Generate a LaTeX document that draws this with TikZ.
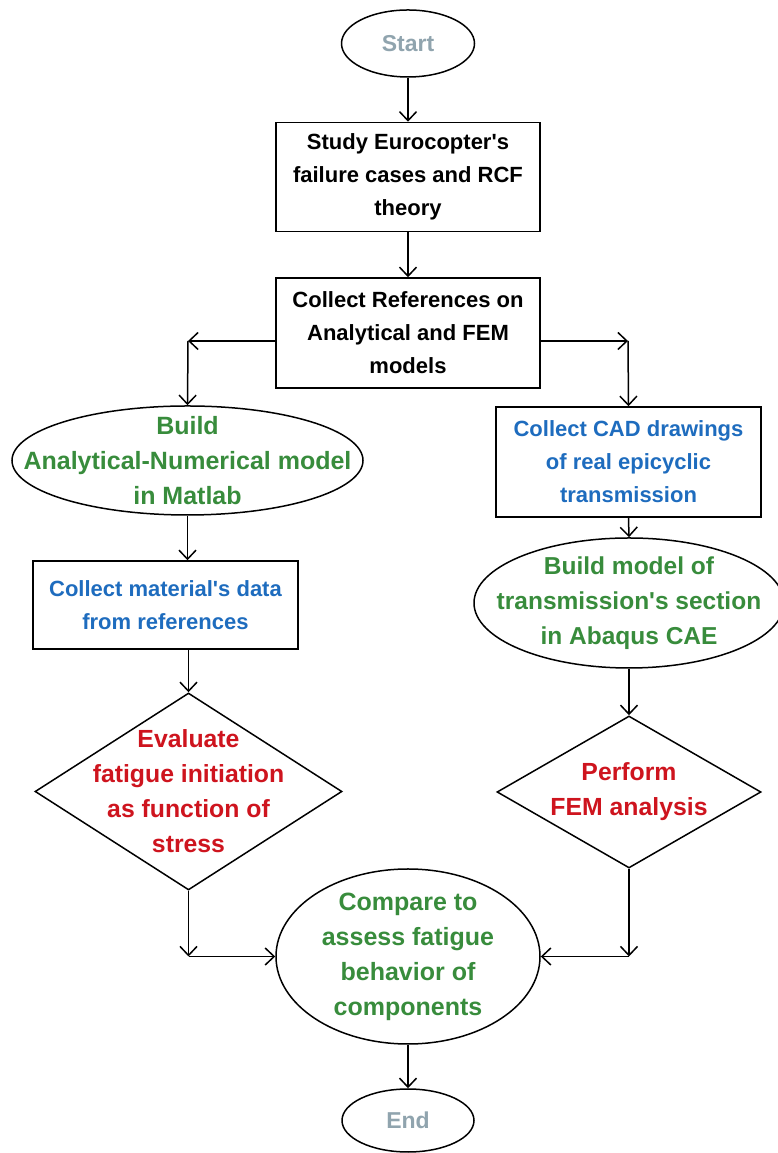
\documentclass[tikz,border=0pt]{standalone}
\usepackage{fontspec}
\setmainfont{Liberation Sans}
\usepackage{tikz}
\usetikzlibrary{arrows.meta,shapes.geometric,positioning}
\definecolor{termgray}{RGB}{144,164,174}
\definecolor{ovalgreen}{RGB}{56,140,60}
\definecolor{boxblue}{RGB}{30,108,190}
\definecolor{choicered}{RGB}{206,20,30}
\newcommand{\q}{\textquotesingle}
\tikzset{
    %Define standard arrow tip
    >={Straight Barb[length=9pt,width=17pt]},
    %Define style for terminals
    term/.style={
           ellipse,
           draw=black, line width=1.5pt,
           inner sep=0pt,
           font=\bfseries\fontsize{23}{33}\selectfont,
           text=termgray,
           text centered},
    %Define style for boxes
    stepbox/.style={
           rectangle,
           draw=black, line width=1.5pt,
           inner sep=0pt,
           align=center,
           font=\bfseries\fontsize{22}{33}\selectfont},
    oval/.style={
           ellipse,
           draw=black, line width=1.5pt,
           inner xsep=-60pt, inner ysep=-20pt,
           align=center,
           text=ovalgreen,
           font=\bfseries\fontsize{25}{35}\selectfont},
    choice/.style={
           diamond,
           draw=black, line width=1.5pt,
           inner sep=-40pt,
           align=center,
           text=choicered,
           font=\bfseries\fontsize{24.8}{35}\selectfont},
    % Define arrow style
    pil/.style={
           ->,
           line width=1.5pt}
}
\begin{document}
\begin{tikzpicture}[x=1pt,y=1pt,node distance=44pt]
\useasboundingbox (0,0) rectangle (777,1153);
\node[term, minimum width=133pt, minimum height=67pt] (start) at (408,1109.5) {Start};
\node[stepbox, minimum width=264pt, minimum height=109pt, below=44pt of start] (study) {Study Eurocopter\q s\\failure cases and RCF\\theory};
\node[stepbox, minimum width=264pt, minimum height=110pt, below=45pt of study] (refs) {Collect References on\\Analytical and FEM\\models};
\node[oval, minimum width=351pt, minimum height=109pt] (build) at (187.5,692.5) {Build\\Analytical-Numerical model\\in Matlab};
\node[stepbox, text=boxblue, minimum width=265pt, minimum height=110pt] (cad) at (628.5,691) {Collect CAD drawings\\of real epicyclic\\transmission};
\node[stepbox, text=boxblue, minimum width=265pt, minimum height=88pt] (material) at (165.5,548) {Collect material\q s data\\from references};
\node[oval, font=\bfseries\fontsize{24.5}{35}\selectfont, minimum width=310pt, minimum height=130pt] (abaqus) at (629,550) {Build model of\\transmission\q s section\\in Abaqus CAE};
\node[choice, minimum width=307pt, minimum height=197pt] (evaluate) at (188.5,361.5) {Evaluate\\fatigue initiation\\as function of\\stress};
\node[choice, minimum width=264pt, minimum height=152pt] (perform) at (629,361) {Perform\\FEM analysis};
\node[oval, minimum width=264pt, minimum height=175pt] (compare) at (408,196.5) {Compare to\\assess fatigue\\behavior of\\components};
\node[term, minimum width=132pt, minimum height=63pt] (end) at (408,32.5) {End};

\coordinate (cl) at (188,812);
\coordinate (cr) at (628,812);
\coordinate (ccl) at (evaluate.south |- compare.west);
\coordinate (ccr) at (perform.south |- compare.east);

\path[pil]
	(start) edge (study)
	(study) edge (refs)
	(refs.west |- cl) edge (cl)
	(cl) edge (build.north)
	(refs.east |- cr) edge (cr)
	(cr) edge (cad.north)
	(build.south) edge (build.south |- material.north)
	(evaluate.north |- material.south) edge (evaluate.north)
	(cad.south) edge (abaqus.north)
	(abaqus.south) edge (perform.north)
	(evaluate.south) edge (ccl)
	(ccl) edge (compare.west)
	(perform.south) edge (ccr)
	(ccr) edge (compare.east)
	(compare) edge (end);
\end{tikzpicture}
\end{document}
